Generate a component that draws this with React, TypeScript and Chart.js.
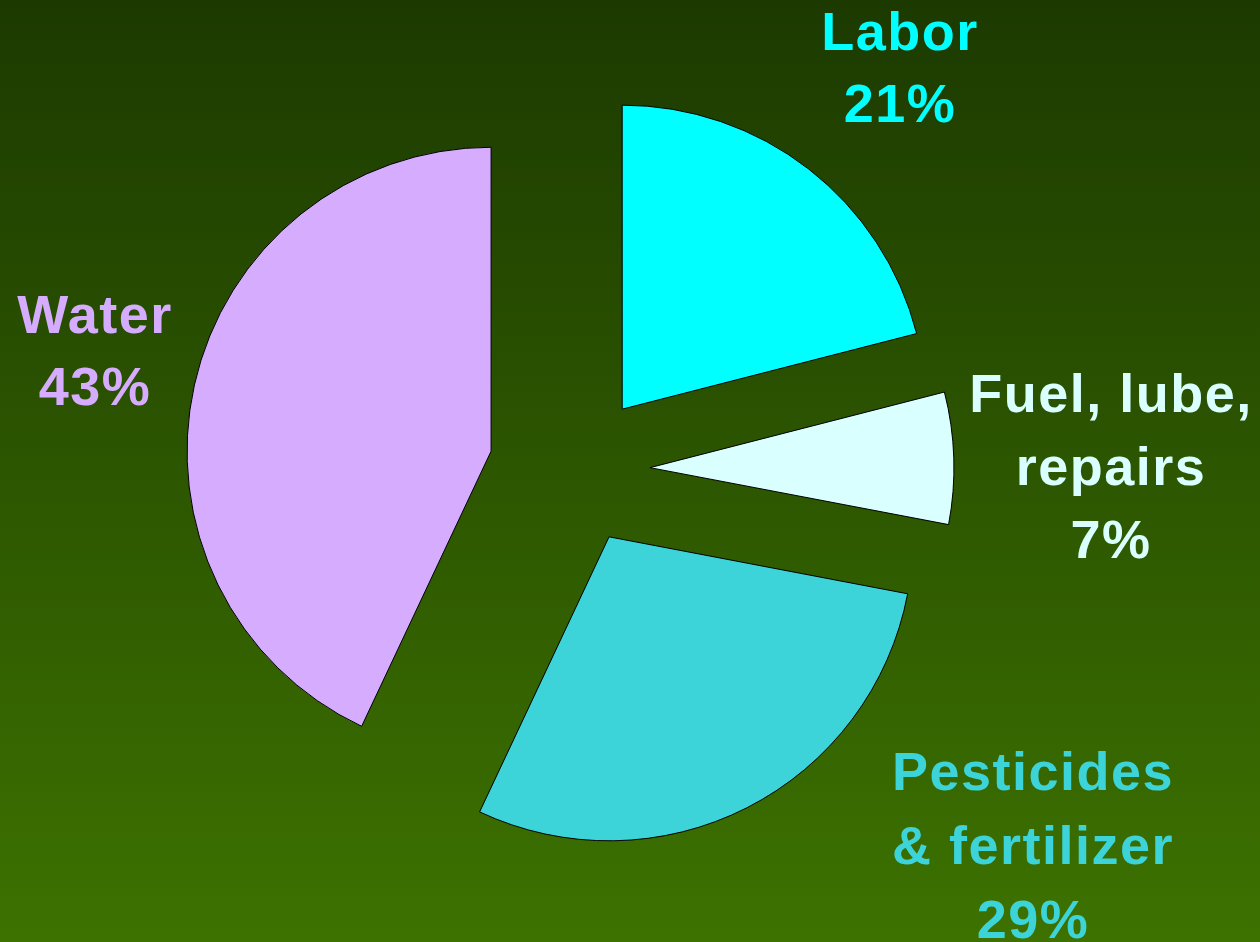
import React, { useEffect, useRef } from "react";
import { Chart, registerables } from "chart.js";

Chart.register(...registerables);

// ---- data ----
const categories = ["Labor", "Fuel, lube, repairs", "Pesticides & fertilizer", "Water"];
const shares = [21, 7, 29, 43];
const labelLines = [["Labor"], ["Fuel, lube,", "repairs"], ["Pesticides", "& fertilizer"], ["Water"]];

// ---- styles ----
const sliceColors = ["#00FFFF", "#D9FFFF", "#3CD4D8", "#D6ACFF"];
const textColors = ["#00FFFF", "#D9FFFF", "#3CD4D8", "#D6ACFF"];
const explode = [77, 75, 75, 86];
const labelLayout = [
  { x: 899, y: 50, step: 72 },
  { x: 1110, y: 412, step: 73 },
  { x: 1032, y: 790, step: 74 },
  { x: 94, y: 333, step: 72 },
];

const explodePlugin = {
  id: "explodeSlices",
  afterDatasetsUpdate(chart: any) {
    const area = chart.chartArea;
    const cx = (area.left + area.right) / 2;
    const cy = (area.top + area.bottom) / 2;
    const meta = chart.getDatasetMeta(0);
    meta.data.forEach((arc: any, i: number) => {
      const mid = (arc.startAngle + arc.endAngle) / 2;
      arc.x = cx + Math.cos(mid) * explode[i];
      arc.y = cy + Math.sin(mid) * explode[i];
    });
  },
};

const labelPlugin = {
  id: "sliceLabels",
  afterDraw(chart: any) {
    const ctx = chart.ctx as CanvasRenderingContext2D;
    ctx.save();
    ctx.font = "bold 54px 'Liberation Sans', Arial, sans-serif";
    (ctx as any).letterSpacing = "1.5px";
    ctx.textAlign = "center";
    ctx.textBaseline = "alphabetic";
    categories.forEach((_, i) => {
      const lines = [...labelLines[i], `${shares[i]}%`];
      const pos = labelLayout[i];
      ctx.fillStyle = textColors[i];
      lines.forEach((ln, j) => {
        ctx.fillText(ln, pos.x + 1, pos.y + j * pos.step);
      });
    });
    ctx.restore();
  },
};

export default function App() {
  const ref = useRef<HTMLCanvasElement | null>(null);
  useEffect(() => {
    if (!ref.current) return;
    const chart = new Chart(ref.current, {
      type: "pie",
      data: {
        labels: categories,
        datasets: [
          {
            data: shares,
            backgroundColor: sliceColors,
            borderColor: "#000000",
            borderWidth: 1,
            radius: 304,
          } as any,
        ],
      },
      options: {
        responsive: false,
        animation: false,
        devicePixelRatio: 1,
        layout: { padding: { left: 0, right: 110, top: 0, bottom: 2 } },
        plugins: {
          legend: { display: false },
          tooltip: { enabled: false },
        },
      },
      plugins: [explodePlugin, labelPlugin],
    });
    return () => chart.destroy();
  }, []);
  return (
    <div
      style={{
        position: "absolute",
        left: 0,
        top: 0,
        width: 1260,
        height: 942,
        background: "linear-gradient(to bottom, #1C3A00, #3D7200)",
      }}
    >
      <canvas ref={ref} width={1260} height={942} style={{ display: "block" }} />
    </div>
  );
}
